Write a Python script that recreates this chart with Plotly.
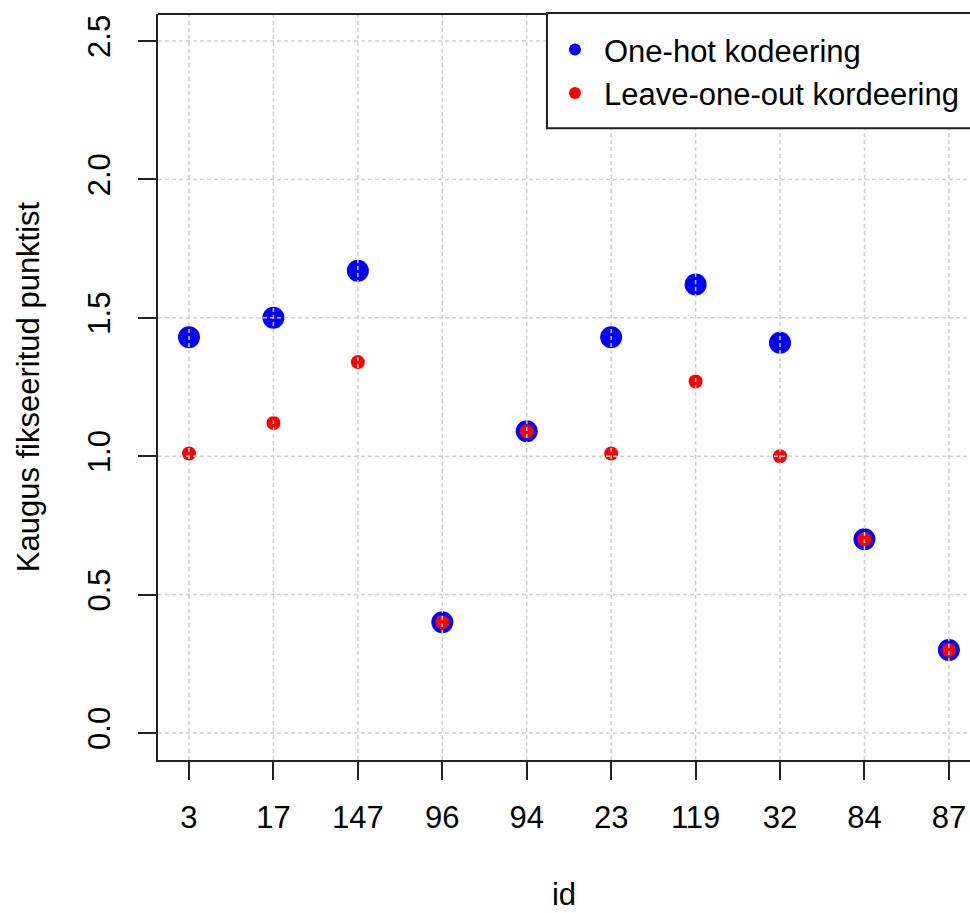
import plotly.graph_objects as go

# Distance from the fixed point for each observation id, under two encodings
ids = ["3", "17", "147", "96", "94", "23", "119", "32", "84", "87"]
one_hot = [1.43, 1.50, 1.67, 0.40, 1.09, 1.43, 1.62, 1.41, 0.70, 0.30]
leave_one_out = [1.01, 1.12, 1.34, 0.40, 1.09, 1.01, 1.27, 1.00, 0.70, 0.30]
y_ticks = [0.0, 0.5, 1.0, 1.5, 2.0, 2.5]

FONT = "Liberation Sans, Arial, sans-serif"
FS = 31
AXIS_COLOR = "#222222"
GRID_COLOR = "#cfcfcf"

fig = go.Figure()
fig.add_trace(go.Scatter(
    x=ids, y=one_hot, mode="markers", name="One-hot kodeering",
    marker=dict(color="#0000ff", size=22, line=dict(width=0)),
))
fig.add_trace(go.Scatter(
    x=ids, y=leave_one_out, mode="markers", name="Leave-one-out kordeering",
    marker=dict(color="#ff0000", size=14, line=dict(width=0)),
))

# dotted grid drawn over the points
shapes = []
for i in range(len(ids)):
    shapes.append(dict(type="line", xref="x", yref="paper", x0=i, x1=i, y0=0, y1=1,
                       line=dict(color=GRID_COLOR, width=1.5, dash="4px,3px"), layer="above"))
for v in y_ticks:
    shapes.append(dict(type="line", xref="paper", yref="y", x0=0, x1=1, y0=v, y1=v,
                       line=dict(color=GRID_COLOR, width=1.5, dash="4px,3px"), layer="above"))
# top edge of the plot box
shapes.append(dict(type="line", xref="paper", yref="paper", x0=0, x1=1, y0=1, y1=1,
                   line=dict(color=AXIS_COLOR, width=2), layer="above"))
# legend frame, running past the right edge of the page
shapes.append(dict(type="rect", xref="paper", yref="paper", x0=0.479, x1=1.05, y0=0.847, y1=1.0013,
                   fillcolor="white", line=dict(color=AXIS_COLOR, width=2), layer="above"))

fig.update_layout(
    width=970, height=913,
    margin=dict(l=158, r=0, t=14, b=153),
    paper_bgcolor="white", plot_bgcolor="white",
    font=dict(family=FONT, size=FS, color="black"),
    shapes=shapes,
    showlegend=True,
    legend=dict(
        x=0.4778, y=0.988, xanchor="left", yanchor="top",
        bgcolor="rgba(0,0,0,0)", borderwidth=0,
        font=dict(family=FONT, size=FS, color="black"),
        itemwidth=48, itemsizing="constant",
    ),
    xaxis=dict(
        type="category", range=[-0.367, 9.25],
        showline=True, linecolor=AXIS_COLOR, linewidth=2, mirror=False,
        ticks="outside", ticklen=18, tickwidth=2, tickcolor=AXIS_COLOR,
        showgrid=False, zeroline=False,
        tickfont=dict(family=FONT, size=FS, color="black"),
        ticklabelstandoff=11,
        title=dict(text="id", font=dict(family=FONT, size=FS, color="black"), standoff=49),
    ),
    yaxis=dict(
        range=[-0.0975, 2.5975],
        tickvals=y_ticks, ticktext=[f"{v:.1f}" for v in y_ticks], tickangle=-90,
        showline=True, linecolor=AXIS_COLOR, linewidth=2, mirror=False,
        ticks="outside", ticklen=18, tickwidth=2, tickcolor=AXIS_COLOR,
        showgrid=False, zeroline=False,
        tickfont=dict(family=FONT, size=FS, color="black"),
        ticklabelstandoff=16,
        title=dict(text="Kaugus fikseeritud punktist", font=dict(family=FONT, size=FS, color="black"), standoff=33),
    ),
)

fig.write_html("out.html")
